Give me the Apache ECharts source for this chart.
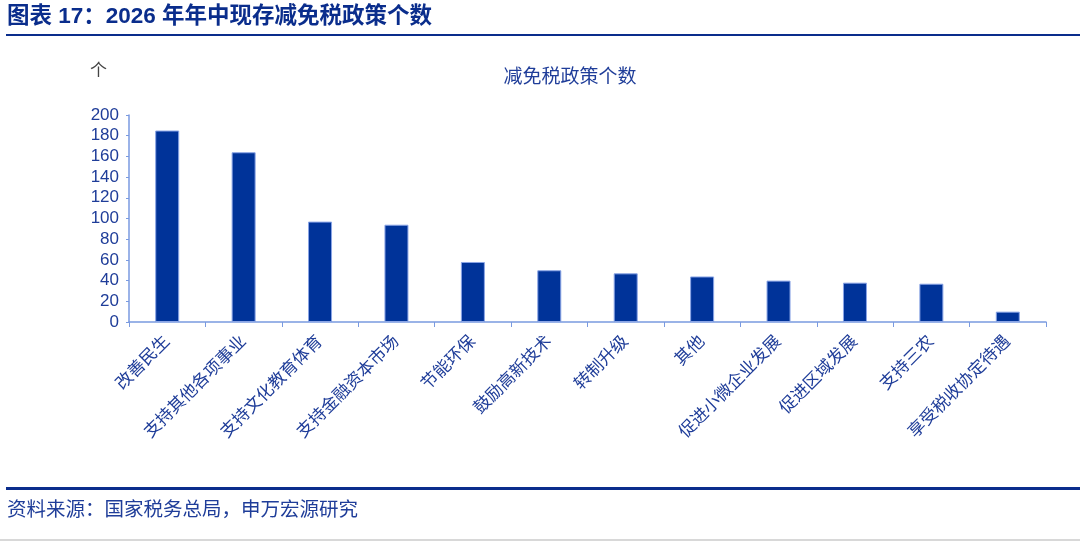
<!DOCTYPE html>
<html>
<head>
<meta charset="utf-8">
<script src="https://cdn.jsdelivr.net/npm/echarts@6/dist/echarts.min.js"></script>
<style>
  html, body { margin: 0; padding: 0; background: #fff; }
  #chart { width: 1080px; height: 541px; }
</style>
</head>
<body>
<div id="chart"></div>
<script>
// 数据
const categories = ["改善民生", "支持其他各项事业", "支持文化教育体育", "支持金融资本市场", "节能环保",
  "鼓励高新技术", "转制升级", "其他", "促进小微企业发展", "促进区域发展", "支持三农", "享受税收协定待遇"];
const counts = [185, 164, 97, 94, 58, 50, 47, 44, 40, 38, 37, 10];
const yTicks = [0, 200, 20]; // min, max, interval

const navy = "#0a2d8c";
const textBlue = "#1f3d99";
const axisBlue = "#7a9ae0";
const font = "Liberation Sans, Noto Sans CJK SC, sans-serif";

const chart = echarts.init(document.getElementById("chart"));

chart.setOption({
  animation: false,
  title: {
    text: "减免税政策个数",
    left: 565,
    top: 63,
    textAlign: "center",
    textStyle: { color: textBlue, fontSize: 19, fontWeight: "normal", fontFamily: font },
  },
  graphic: [
    {
      type: "text", left: 7, top: 6,
      style: { text: "图表 17：2026 年年中现存减免税政策个数", fill: navy, font: "bold 22.5px " + font },
    },
    { type: "rect", shape: { x: 6, y: 34, width: 1074, height: 2 }, style: { fill: navy } },
    {
      type: "text", left: 90, top: 63,
      style: { text: "个", fill: "#444", font: "17px " + font },
    },
    { type: "rect", shape: { x: 6, y: 487, width: 1074, height: 3 }, style: { fill: navy } },
    {
      type: "text", left: 7, top: 501,
      style: { text: "资料来源：国家税务总局，申万宏源研究", fill: textBlue, font: "19.5px " + font },
    },
    { type: "rect", shape: { x: 0, y: 539, width: 1080, height: 2 }, style: { fill: "#d8d8d8" } },
  ],
  grid: { left: 129, right: 34, top: 115, bottom: 219 },
  xAxis: {
    type: "category",
    data: categories,
    axisLine: { lineStyle: { color: axisBlue, width: 1.5 } },
    axisTick: { show: true, length: 5, lineStyle: { color: axisBlue } },
    axisLabel: {
      rotate: 45,
      interval: 0,
      color: textBlue,
      fontSize: 17,
      fontFamily: font,
      margin: 17,
    },
  },
  yAxis: {
    type: "value",
    min: yTicks[0],
    max: yTicks[1],
    interval: yTicks[2],
    splitLine: { show: false },
    axisLine: { show: true, lineStyle: { color: axisBlue, width: 1.5 } },
    axisTick: { show: true, length: 3, lineStyle: { color: axisBlue } },
    axisLabel: { color: textBlue, fontSize: 17, fontFamily: font, margin: 10 },
  },
  series: [
    {
      name: "减免税政策个数",
      type: "bar",
      data: counts,
      barWidth: 24,
      itemStyle: { color: "#003399", borderColor: "#8aa5e6", borderWidth: 1 },
    },
  ],
});
</script>
</body>
</html>
